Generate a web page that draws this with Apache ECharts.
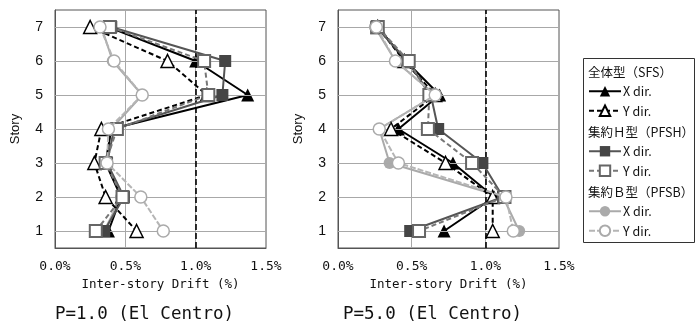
<!DOCTYPE html>
<html>
<head>
<meta charset="utf-8">
<script src="https://cdn.jsdelivr.net/npm/echarts@6/dist/echarts.min.js"></script>
<style>
  html, body { margin: 0; padding: 0; background: #fff; }
  #chart { width: 699px; height: 329px; }
</style>
</head>
<body>
<div id="chart"></div>
<script>
// stories, top to bottom
const stories = [7, 6, 5, 4, 3, 2, 1];
const storyTicks = [1, 2, 3, 4, 5, 6, 7];

// P=1.0 (El Centro) – inter-story drift (%) per story 7..1
const p1SfsX  = [0.38, 1.00, 1.37, 0.40, 0.36, 0.47, 0.38];
const p1SfsY  = [0.25, 0.80, 1.08, 0.33, 0.28, 0.36, 0.58];
const p1PfshX = [0.40, 1.21, 1.19, 0.42, 0.37, 0.49, 0.35];
const p1PfshY = [0.39, 1.06, 1.09, 0.44, 0.36, 0.48, 0.29];
const p1PfsbX = [0.33, 0.41, 0.62, 0.40, 0.36, 0.47, 0.35];
const p1PfsbY = [0.32, 0.42, 0.62, 0.38, 0.37, 0.61, 0.77];

// P=5.0 (El Centro)
const p5SfsX  = [0.27, 0.46, 0.69, 0.41, 0.78, 1.06, 0.72];
const p5SfsY  = [0.27, 0.45, 0.66, 0.36, 0.73, 1.05, 1.05];
const p5PfshX = [0.26, 0.47, 0.63, 0.68, 0.98, 1.12, 0.49];
const p5PfshY = [0.27, 0.48, 0.62, 0.61, 0.91, 1.13, 0.55];
const p5PfsbX = [0.25, 0.39, 0.66, 0.28, 0.35, 1.12, 1.23];
const p5PfsbY = [0.26, 0.39, 0.66, 0.28, 0.41, 1.14, 1.19];

const titles = ['P=1.0 (El Centro)', 'P=5.0 (El Centro)'];
const groupNames = ['全体型（SFS）', '集約Ｈ型（PFSH）', '集約Ｂ型（PFSB）'];

const MONO = 'DejaVu Sans Mono';
const SANS = 'Liberation Sans';
const JP = 'Noto Sans CJK JP';

const styles = {
  'SFS-X':  { symbol: 'triangle', size: 13, fill: '#000', border: '#000', bw: 0, line: '#000', type: 'solid', z: 4 },
  'SFS-Y':  { symbol: 'triangle', size: 13, fill: '#fff', border: '#000', bw: 1.5, line: '#000', type: [5, 3], z: 5 },
  'PFSH-X': { symbol: 'rect', size: 12, fill: '#454545', border: '#454545', bw: 0, line: '#555', type: 'solid', z: 6 },
  'PFSH-Y': { symbol: 'rect', size: 12, fill: '#fff', border: '#666', bw: 2, line: '#777', type: [5, 3], z: 7 },
  'PFSB-X': { symbol: 'circle', size: 12, fill: '#aaa', border: '#aaa', bw: 0, line: '#aaa', type: 'solid', z: 2 },
  'PFSB-Y': { symbol: 'circle', size: 12, fill: '#fff', border: '#aaa', bw: 1.5, line: '#b5b5b5', type: [6, 2], z: 8 }
};

const chartData = [
  { 'SFS-X': p1SfsX, 'SFS-Y': p1SfsY, 'PFSH-X': p1PfshX, 'PFSH-Y': p1PfshY, 'PFSB-X': p1PfsbX, 'PFSB-Y': p1PfsbY },
  { 'SFS-X': p5SfsX, 'SFS-Y': p5SfsY, 'PFSH-X': p5PfshX, 'PFSH-Y': p5PfshY, 'PFSB-X': p5PfsbX, 'PFSB-Y': p5PfsbY }
];

const grids = [
  { left: 55, top: 10, width: 211, height: 238 },
  { left: 338, top: 10, width: 221, height: 238 }
];

const chart = echarts.init(document.getElementById('chart'));

const series = [];
chartData.forEach((set, gi) => {
  // background grid lines + 1.0% limit line
  series.push({
    type: 'line',
    xAxisIndex: gi,
    yAxisIndex: gi,
    data: [],
    z: 1,
    silent: true,
    markLine: {
      silent: true,
      symbol: 'none',
      label: { show: false },
      animation: false,
      data: storyTicks.map(s => ({ yAxis: s, lineStyle: { color: '#a8a8a8', width: 1, type: 'solid' } }))
        .concat([{ xAxis: 1.0, lineStyle: { color: '#000', width: 1.6, type: [6, 3] } }])
    }
  });
  Object.keys(set).forEach(name => {
    const st = styles[name];
    series.push({
      name: name,
      type: 'line',
      xAxisIndex: gi,
      yAxisIndex: gi,
      z: st.z,
      symbol: st.symbol,
      symbolSize: st.size,
      showAllSymbol: true,
      lineStyle: { color: st.line, width: 2, type: st.type },
      itemStyle: { color: st.fill, borderColor: st.border, borderWidth: st.bw },
      data: stories.map((s, i) => [set[name][i], s])
    });
  });
});

const legendGroups = [['SFS-X', 'SFS-Y'], ['PFSH-X', 'PFSH-Y'], ['PFSB-X', 'PFSB-Y']];
const legendTops = [85, 145, 205];
const headerY = [72, 132, 192];

const option = {
  animation: false,
  backgroundColor: '#fff',
  title: titles.map((t, i) => ({
    text: t,
    left: i === 0 ? 55 : 343,
    top: 305,
    padding: 0,
    textStyle: { fontFamily: MONO, fontSize: 17.5, fontWeight: 'normal', color: '#111' }
  })),
  grid: grids.map(g => Object.assign({ show: true, borderColor: '#555', borderWidth: 1, backgroundColor: '#fff' }, g)),
  xAxis: grids.map((g, i) => ({
    type: 'value',
    gridIndex: i,
    min: 0,
    max: 1.5,
    interval: 0.5,
    name: 'Inter-story Drift (%)',
    nameLocation: 'middle',
    nameGap: 30,
    nameTextStyle: { fontFamily: MONO, fontSize: 12.5, color: '#111' },
    axisLine: { show: true, lineStyle: { color: '#555' } },
    axisTick: { show: false },
    axisLabel: {
      margin: 12,
      fontFamily: MONO,
      fontSize: 13,
      color: '#111',
      formatter: v => v.toFixed(1) + '%'
    },
    splitLine: { show: true, lineStyle: { color: '#a8a8a8', width: 1 } }
  })),
  yAxis: grids.map((g, i) => ({
    type: 'value',
    gridIndex: i,
    min: 0.5,
    max: 7.5,
    name: 'Story',
    nameLocation: 'middle',
    nameRotate: 90,
    nameGap: 33,
    nameTextStyle: { fontFamily: SANS, fontSize: 13, color: '#111' },
    axisLine: { show: true, lineStyle: { color: '#555' } },
    axisTick: { show: false },
    axisLabel: {
      customValues: storyTicks,
      margin: 12,
      fontFamily: SANS,
      fontSize: 14,
      color: '#111'
    },
    splitLine: { show: false }
  })),
  legend: legendGroups.map((names, i) => ({
    orient: 'vertical',
    left: 588,
    top: legendTops[i],
    padding: 0,
    itemWidth: 32,
    itemHeight: 13,
    itemGap: 7,
    selectedMode: false,
    data: names,
    formatter: n => (n.slice(-1) === 'X' ? 'X dir.' : 'Y dir.'),
    textStyle: { fontFamily: JP, fontSize: 12.5, color: '#111', padding: [0, 0, 0, -3] }
  })),
  graphic: [
    {
      type: 'rect',
      z: 0,
      shape: { x: 583.5, y: 58.5, width: 111, height: 184 },
      style: { fill: '#fff', stroke: '#333', lineWidth: 1 }
    }
  ].concat(groupNames.map((t, i) => ({
    type: 'text',
    z: 10,
    style: {
      text: t,
      x: 588,
      y: headerY[i],
      verticalAlign: 'middle',
      font: '12.5px "' + JP + '"',
      fill: '#111'
    }
  }))),
  series: series
};

chart.setOption(option);
</script>
</body>
</html>
